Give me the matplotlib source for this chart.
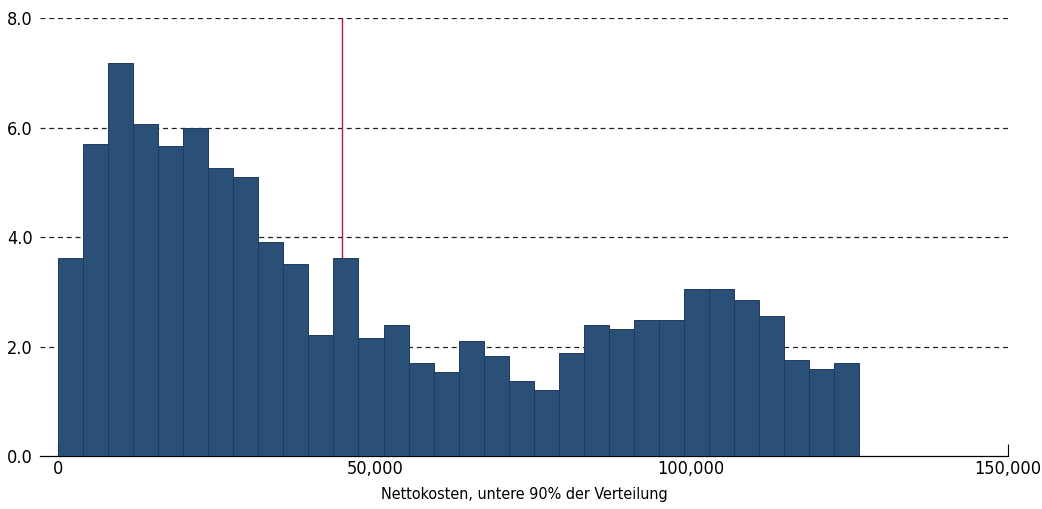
import numpy as np
import matplotlib.pyplot as plt
from matplotlib.ticker import FuncFormatter

plt.rcParams["font.family"] = ["DejaVu Sans"]
plt.rcParams["font.stretch"] = "condensed"

# histogram heights (density in 1e-5 units), 32 equal bins from 0 to 126,500
heights = [3.62, 5.70, 7.18, 6.06, 5.66, 5.99, 5.26, 5.10, 3.91, 3.51, 2.21, 3.62,
           2.16, 2.39, 1.70, 1.53, 2.10, 1.83, 1.37, 1.21, 1.88, 2.39, 2.32, 2.48,
           2.48, 3.05, 3.05, 2.85, 2.56, 1.75, 1.59, 1.70]
bin_start = 0
bin_end = 126500
median_cost = 44800
xticks = [0, 50000, 100000, 150000]
yticks = [0.0, 2.0, 4.0, 6.0, 8.0]
xlabel = "Nettokosten, untere 90% der Verteilung"

edges = np.linspace(bin_start, bin_end, len(heights) + 1)

fig = plt.figure(figsize=(10.42, 5.09), dpi=100)
ax = fig.add_axes([0.0384, 0.1041, 0.929, 0.8605])

for y in yticks[1:]:
    ax.axhline(y, color="#222222", linestyle=(0, (4, 3)), linewidth=0.9, zorder=1)

ax.axvline(median_cost, color="#b5193f", linewidth=1.0, zorder=2)

ax.bar(edges[:-1], heights, width=np.diff(edges), align="edge",
       color="#2a5078", edgecolor="#1f3a5c", linewidth=0.7, zorder=3)

ax.set_xlim(-2850, 150000)
ax.set_ylim(0, 8)

for s in ["top", "right", "left"]:
    ax.spines[s].set_visible(False)
ax.spines["bottom"].set_linewidth(0.9)

ax.set_xticks(xticks)
ax.xaxis.set_major_formatter(FuncFormatter(lambda v, p: f"{int(v):,}"))
ax.tick_params(axis="x", direction="in", length=9, width=0.8, labelsize=13, pad=3)
ax.set_yticks(yticks)
ax.set_yticklabels([f"{v:.1f}" for v in yticks])
ax.tick_params(axis="y", length=0, labelsize=13, pad=5)

ax.set_xlabel(xlabel, fontsize=11.5, labelpad=6)

fig.savefig("out.png", dpi=100)
